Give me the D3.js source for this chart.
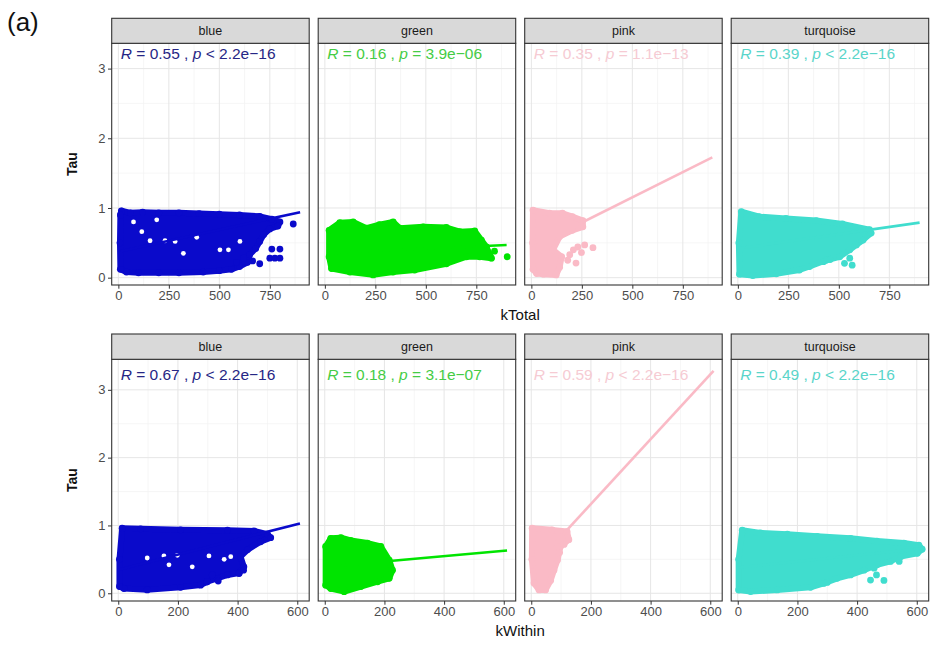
<!DOCTYPE html>
<html>
<head>
<meta charset="utf-8">
<script src="https://cdn.jsdelivr.net/npm/d3@7"></script>
<style>
  html, body { margin: 0; padding: 0; background: #fff; }
  svg { display: block; font-family: "Liberation Sans", Arial, sans-serif; }
</style>
</head>
<body>
<svg id="chart" width="938" height="646"></svg>
<script>
// Module names and colours
const modules = ["blue", "green", "pink", "turquoise"];
const pointColors = ["#0a0acb", "#00e400", "#fabac6", "#40ddce"];
const textColors = ["#262685", "#45cc45", "#f6cbd3", "#5ad5ca"];

// Axis ticks
const tauTicks = [0, 1, 2, 3];
const kTotalTicks = [0, 250, 500, 750];
const kWithinTicks = [0, 200, 400, 600];

// Correlation labels
const rTotal = ["0.55", "0.16", "0.35", "0.39"];
const pTotal = ["< 2.2e\u221216", "= 3.9e\u221206", "= 1.1e\u221213", "< 2.2e\u221216"];
const rWithin = ["0.67", "0.18", "0.59", "0.49"];
const pWithin = ["< 2.2e\u221216", "= 3.1e\u221207", "< 2.2e\u221216", "< 2.2e\u221216"];

// Fitted lines [kStart, tauStart], [kEnd, tauEnd]
const fitTotal = [
  [[12, 0.38], [900, 0.94]],
  [[12, 0.35], [900, 0.47]],
  [[8, 0.44], [896, 1.727]],
  [[5, 0.42], [900, 0.79]]
];
const fitWithin = [
  [[5, 0.35], [609, 1.03]],
  [[3, 0.39], [611, 0.63]],
  [[2, 0.37], [611, 3.28]],
  [[3, 0.38], [615, 0.66]]
];

// Outline of the dense point clouds [k, tau]
const blueTotalCloud = [[15, 0.96], [60, 0.93], [120, 0.94], [200, 0.93], [300, 0.93], [400, 0.92], [500, 0.91], [600, 0.9], [700, 0.88], [760, 0.84], [800, 0.8], [790, 0.74], [750, 0.7], [720, 0.62], [700, 0.52], [680, 0.42], [650, 0.33], [640, 0.22], [600, 0.16], [560, 0.12], [500, 0.1], [420, 0.08], [300, 0.07], [200, 0.07], [100, 0.07], [40, 0.08], [10, 0.12], [8, 0.5], [10, 0.9]];
const greenTotalCloud = [[21, 0.68], [74, 0.79], [140, 0.8], [206, 0.71], [270, 0.76], [338, 0.8], [371, 0.71], [487, 0.73], [602, 0.72], [668, 0.66], [742, 0.67], [775, 0.54], [800, 0.44], [825, 0.28], [767, 0.3], [701, 0.3], [602, 0.2], [445, 0.11], [338, 0.08], [239, 0.04], [124, 0.08], [33, 0.13], [21, 0.3]];
const pinkTotalCloud = [[8, 0.97], [90, 0.925], [154, 0.925], [203, 0.875], [255, 0.82], [255, 0.73], [203, 0.68], [140, 0.59], [107, 0.4], [150, 0.3], [140, 0.15], [123, 0.04], [60, 0.05], [26, 0.06], [8, 0.12], [6, 0.5]];
const turqTotalCloud = [[17, 0.947], [106, 0.875], [238, 0.85], [388, 0.82], [518, 0.77], [652, 0.69], [660, 0.64], [620, 0.54], [587, 0.47], [554, 0.4], [504, 0.3], [437, 0.25], [355, 0.16], [305, 0.11], [190, 0.055], [74, 0.03], [8, 0.05], [5, 0.5]];

const blueWithinCloud = [[13, 0.96], [75, 0.95], [209, 0.935], [366, 0.93], [455, 0.92], [500, 0.87], [511, 0.82], [477, 0.76], [433, 0.64], [410, 0.54], [421, 0.39], [405, 0.3], [366, 0.27], [332, 0.22], [298, 0.17], [276, 0.12], [209, 0.088], [97, 0.05], [19, 0.07], [4, 0.1], [4, 0.5]];
const greenWithinCloud = [[20, 0.81], [54, 0.82], [87, 0.78], [143, 0.74], [188, 0.69], [216, 0.49], [227, 0.34], [216, 0.22], [177, 0.17], [121, 0.098], [65, 0.024], [20, 0.07], [3, 0.12], [3, 0.69]];
const pinkWithinCloud = [[3, 0.96], [70, 0.935], [120, 0.91], [126, 0.79], [98, 0.69], [88, 0.49], [76, 0.34], [65, 0.19], [48, 0.05], [26, 0.05], [9, 0.15], [2, 0.5]];
const turqWithinCloud = [[15, 0.93], [76, 0.89], [166, 0.87], [266, 0.84], [378, 0.81], [467, 0.77], [557, 0.74], [607, 0.71], [618, 0.65], [602, 0.59], [546, 0.54], [512, 0.47], [467, 0.42], [423, 0.34], [378, 0.27], [333, 0.22], [288, 0.145], [244, 0.088], [132, 0.049], [43, 0.025], [3, 0.048], [3, 0.5]];

// Isolated points outside the dense clouds [k, tau]
const blueTotalOut = [[866, 0.77], [760, 0.41], [800, 0.41], [750, 0.28], [775, 0.28], [800, 0.28], [700, 0.2], [620, 0.28], [585, 0.22], [665, 0.24]];
const greenTotalOut = [[903, 0.3], [840, 0.38], [760, 0.56]];
const pinkTotalOut = [[264, 0.47], [305, 0.43], [230, 0.44], [208, 0.4], [248, 0.36], [190, 0.33], [221, 0.21], [180, 0.25]];
const turqTotalOut = [[528, 0.206], [554, 0.28], [566, 0.18], [424, 0.23], [457, 0.26]];
const blueWithinOut = [[298, 0.17], [335, 0.18], [405, 0.29], [315, 0.27], [420, 0.34]];
const greenWithinOut = [];
const pinkWithinOut = [[110, 0.72], [95, 0.6]];
const turqWithinOut = [[445, 0.195], [465, 0.27], [490, 0.19], [541, 0.47], [457, 0.37], [300, 0.16]];

// Small empty gaps inside the blue clouds [k, tau]
const blueTotalGaps = [[116, 0.66], [157, 0.53], [190, 0.83], [231, 0.53], [281, 0.52], [322, 0.35], [388, 0.58], [503, 0.4], [545, 0.4], [602, 0.52], [75, 0.8]];
const blueWithinGaps = [[97, 0.52], [153, 0.55], [198, 0.56], [170, 0.42], [248, 0.39], [304, 0.55], [355, 0.5], [377, 0.54]];

const rows = [
  {
    xTitle: "kTotal", xTicks: kTotalTicks, xDomain: [-33, 945], yDomain: [-0.105, 3.363],
    stripTop: 18.3, panelTop: 43.3, panelBottom: 285, labelK: 12,
    r: rTotal, p: pTotal, fits: fitTotal,
    clouds: [blueTotalCloud, greenTotalCloud, pinkTotalCloud, turqTotalCloud],
    outs: [blueTotalOut, greenTotalOut, pinkTotalOut, turqTotalOut],
    gaps: [blueTotalGaps, [], [], []]
  },
  {
    xTitle: "kWithin", xTicks: kWithinTicks, xDomain: [-22, 640], yDomain: [-0.114, 3.45],
    stripTop: 334, panelTop: 359.3, panelBottom: 601, labelK: 8,
    r: rWithin, p: pWithin, fits: fitWithin,
    clouds: [blueWithinCloud, greenWithinCloud, pinkWithinCloud, turqWithinCloud],
    outs: [blueWithinOut, greenWithinOut, pinkWithinOut, turqWithinOut],
    gaps: [blueWithinGaps, [], [], []]
  }
];

const svg = d3.select("#chart");
const panelLeft = 111.7, panelW = 197.5, panelGap = 9;
const dotR = 3.4;

// Figure tag
svg.append("text")
  .attr("x", 7).attr("y", 31)
  .attr("font-size", 26)
  .attr("fill", "#111")
  .text("(a)");

rows.forEach((row) => {
  const h = row.panelBottom - row.panelTop;
  const x = d3.scaleLinear().domain(row.xDomain).range([0, panelW]);
  const y = d3.scaleLinear().domain(row.yDomain).range([h, 0]);
  const xMinor = d3.range(row.xTicks.length - 1).map(i => (row.xTicks[i] + row.xTicks[i + 1]) / 2);
  const step = row.xTicks[1] - row.xTicks[0];
  xMinor.push(row.xTicks[row.xTicks.length - 1] + step / 2);
  const yMinor = [0.5, 1.5, 2.5];

  modules.forEach((m, i) => {
    const left = panelLeft + i * (panelW + panelGap);
    const g = svg.append("g").attr("transform", `translate(${left},${row.panelTop})`);

    // Grid
    g.selectAll("line.minorx")
      .data(xMinor.filter(d => x(d) < panelW))
      .join("line")
        .attr("class", "minorx")
        .attr("x1", d => x(d)).attr("x2", d => x(d))
        .attr("y1", 0).attr("y2", h)
        .attr("stroke", "#f2f2f2").attr("stroke-width", 0.7);
    g.selectAll("line.minory")
      .data(yMinor)
      .join("line")
        .attr("class", "minory")
        .attr("x1", 0).attr("x2", panelW)
        .attr("y1", d => y(d)).attr("y2", d => y(d))
        .attr("stroke", "#f2f2f2").attr("stroke-width", 0.7);
    g.selectAll("line.majorx")
      .data(row.xTicks)
      .join("line")
        .attr("class", "majorx")
        .attr("x1", d => x(d)).attr("x2", d => x(d))
        .attr("y1", 0).attr("y2", h)
        .attr("stroke", "#e6e6e6").attr("stroke-width", 1);
    g.selectAll("line.majory")
      .data(tauTicks)
      .join("line")
        .attr("class", "majory")
        .attr("x1", 0).attr("x2", panelW)
        .attr("y1", d => y(d)).attr("y2", d => y(d))
        .attr("stroke", "#e6e6e6").attr("stroke-width", 1);

    // Dense cloud of points
    const area = d3.line()
      .x(d => x(d[0]))
      .y(d => y(d[1]))
      .curve(d3.curveLinearClosed);
    g.append("path")
      .attr("d", area(row.clouds[i]))
      .attr("fill", pointColors[i])
      .attr("stroke", pointColors[i])
      .attr("stroke-width", 6)
      .attr("stroke-linejoin", "round");
    g.selectAll("circle.edge")
      .data(row.clouds[i])
      .join("circle")
        .attr("class", "edge")
        .attr("cx", d => x(d[0]))
        .attr("cy", d => y(d[1]))
        .attr("r", dotR)
        .attr("fill", pointColors[i]);
    g.selectAll("circle.gap")
      .data(row.gaps[i])
      .join("circle")
        .attr("class", "gap")
        .attr("cx", d => x(d[0]))
        .attr("cy", d => y(d[1]))
        .attr("r", 2.4)
        .attr("fill", "#fff");
    g.selectAll("circle.out")
      .data(row.outs[i])
      .join("circle")
        .attr("class", "out")
        .attr("cx", d => x(d[0]))
        .attr("cy", d => y(d[1]))
        .attr("r", dotR)
        .attr("fill", pointColors[i]);

    // Regression line
    g.append("path")
      .attr("d", d3.line().x(d => x(d[0])).y(d => y(d[1]))(row.fits[i]))
      .attr("fill", "none")
      .attr("stroke", pointColors[i])
      .attr("stroke-width", 2.6);

    // Correlation label
    const lab = g.append("text")
      .attr("x", x(row.labelK))
      .attr("y", y(3.14))
      .attr("font-size", 15.5)
      .attr("fill", textColors[i]);
    lab.append("tspan").attr("font-style", "italic").text("R");
    lab.append("tspan").text(` = ${row.r[i]} , `);
    lab.append("tspan").attr("font-style", "italic").text("p");
    lab.append("tspan").text(` ${row.p[i]}`);

    // Panel border
    g.append("rect")
      .attr("width", panelW).attr("height", h)
      .attr("fill", "none")
      .attr("stroke", "#333").attr("stroke-width", 1.1);

    // Strip
    const strip = svg.append("g").attr("transform", `translate(${left},${row.stripTop})`);
    strip.append("rect")
      .attr("width", panelW).attr("height", row.panelTop - row.stripTop)
      .attr("fill", "#d9d9d9")
      .attr("stroke", "#333").attr("stroke-width", 1.1);
    strip.append("text")
      .attr("x", panelW / 2)
      .attr("y", (row.panelTop - row.stripTop) / 2 + 4.3)
      .attr("text-anchor", "middle")
      .attr("font-size", 12.5)
      .attr("fill", "#1a1a1a")
      .text(m);

    // x axis
    const xAxisG = g.append("g")
      .attr("transform", `translate(0,${h})`)
      .call(d3.axisBottom(x).tickValues(row.xTicks).tickFormat(d3.format("d")).tickSize(3.7).tickPadding(2.5));
    xAxisG.select(".domain").remove();
    xAxisG.selectAll(".tick line").attr("stroke", "#333");
    xAxisG.selectAll(".tick text")
      .attr("fill", "#4d4d4d")
      .attr("font-size", 13)
      .attr("font-family", "Liberation Sans, Arial, sans-serif");

    // y axis on first panel
    if (i === 0) {
      const yAxisG = g.append("g")
        .call(d3.axisLeft(y).tickValues(tauTicks).tickFormat(d3.format("d")).tickSize(3.7).tickPadding(2.5));
      yAxisG.select(".domain").remove();
      yAxisG.selectAll(".tick line").attr("stroke", "#333");
      yAxisG.selectAll(".tick text")
        .attr("fill", "#4d4d4d")
        .attr("font-size", 13)
        .attr("font-family", "Liberation Sans, Arial, sans-serif");
    }
  });

  // Axis titles
  svg.append("text")
    .attr("x", panelLeft + (4 * panelW + 3 * panelGap) / 2)
    .attr("y", row.panelBottom + 35)
    .attr("text-anchor", "middle")
    .attr("font-size", 15)
    .attr("fill", "#111")
    .text(row.xTitle);

  svg.append("text")
    .attr("transform", `translate(76.5,${(row.panelTop + row.panelBottom) / 2}) rotate(-90)`)
    .attr("text-anchor", "middle")
    .attr("font-size", 14)
    .attr("font-weight", "bold")
    .attr("fill", "#111")
    .text("Tau");
});
</script>
</body>
</html>
